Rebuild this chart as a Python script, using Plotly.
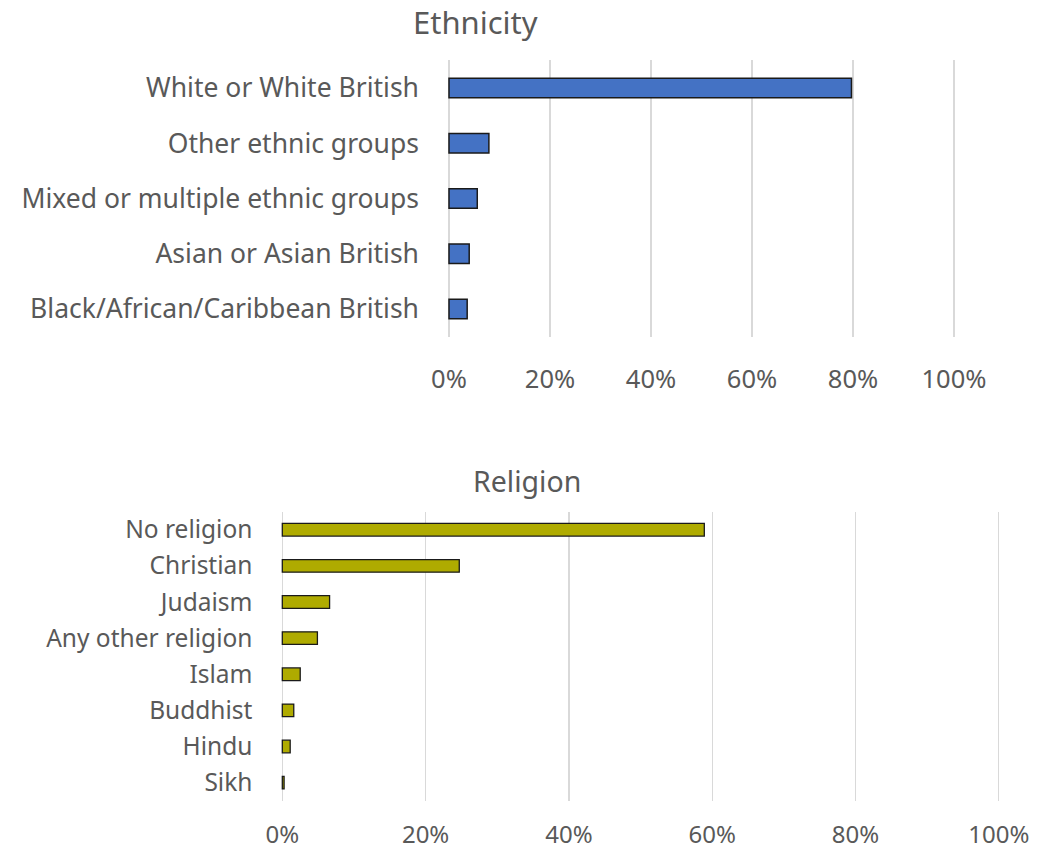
import plotly.graph_objects as go

eth_categories = ["White or White British", "Other ethnic groups", "Mixed or multiple ethnic groups",
                  "Asian or Asian British", "Black/African/Caribbean British"]
eth_values = [79.7, 7.9, 5.6, 4.0, 3.6]

rel_categories = ["No religion", "Christian", "Judaism", "Any other religion",
                  "Islam", "Buddhist", "Hindu", "Sikh"]
rel_values = [58.9, 24.7, 6.6, 4.9, 2.5, 1.6, 1.1, 0.25]

tick_vals = [0, 20, 40, 60, 80, 100]
tick_text = ["0%", "20%", "40%", "60%", "80%", "100%"]

FONT = "Noto Sans"
GREY = "#595959"
W, H = 1060, 849
PAD = 0.4  # small range padding so 0% and 100% grid lines are drawn

e_ppu = (954 - 449) / 100.0
r_ppu = (998.8 - 282.3) / 100.0

fig = go.Figure()
fig.add_trace(go.Bar(y=eth_categories, x=eth_values, orientation="h",
                     marker=dict(color="#4472C4", line=dict(color="#1a1a1a", width=1.5)),
                     xaxis="x", yaxis="y", showlegend=False))
fig.add_trace(go.Bar(y=rel_categories, x=rel_values, orientation="h",
                     marker=dict(color="#AFAB00", line=dict(color="#1a1a1a", width=1.3)),
                     xaxis="x2", yaxis="y2", showlegend=False))

fig.update_layout(
    template="none",
    width=W, height=H,
    margin=dict(l=0, r=0, t=0, b=0, pad=0),
    paper_bgcolor="white", plot_bgcolor="white",
    font=dict(family=FONT, color=GREY),
    bargap=0.65,
    xaxis=dict(domain=[(449 - PAD * e_ppu) / W, (954 + PAD * e_ppu) / W], range=[-PAD, 100 + PAD],
               tickvals=tick_vals, ticktext=tick_text, automargin=False,
               showgrid=True, gridcolor="#D9D9D9", gridwidth=1.5, zeroline=False,
               showline=False, ticks="", tickfont=dict(size=25.5, color=GREY, family=FONT),
               ticklabelstandoff=25, anchor="y", fixedrange=True),
    yaxis=dict(domain=[1 - 336.6 / H, 1 - 60.4 / H], autorange="reversed", categoryorder="array",
               categoryarray=eth_categories, showgrid=False, zeroline=False, showline=False,
               automargin=False, ticks="", tickfont=dict(size=26.5, color=GREY, family=FONT),
               ticklabelstandoff=27, anchor="x"),
    xaxis2=dict(domain=[(282.3 - PAD * r_ppu) / W, (998.8 + PAD * r_ppu) / W], range=[-PAD, 100 + PAD],
                tickvals=tick_vals, ticktext=tick_text, automargin=False,
                showgrid=True, gridcolor="#D9D9D9", gridwidth=1.3, zeroline=False,
                showline=False, ticks="", tickfont=dict(size=24, color=GREY, family=FONT),
                ticklabelstandoff=17, anchor="y2"),
    yaxis2=dict(domain=[1 - 800.7 / H, 1 - 511.7 / H], autorange="reversed", categoryorder="array",
                categoryarray=rel_categories, showgrid=False, zeroline=False, showline=False,
                automargin=False, ticks="", tickfont=dict(size=24.5, color=GREY, family=FONT),
                ticklabelstandoff=26, anchor="x2"),
    annotations=[
        dict(text="Ethnicity", x=475 / W, y=1 - 22 / H, xref="paper", yref="paper",
             xanchor="center", yanchor="middle", showarrow=False,
             font=dict(size=31, color=GREY, family=FONT)),
        dict(text="Religion", x=527 / W, y=1 - 481 / H, xref="paper", yref="paper",
             xanchor="center", yanchor="middle", showarrow=False,
             font=dict(size=28.5, color=GREY, family=FONT)),
    ],
)

fig.write_html("out.html",
               config={"displayModeBar": False, "staticPlot": True},
               post_script=["document.body.style.margin='0';document.body.style.overflow='hidden';"])
